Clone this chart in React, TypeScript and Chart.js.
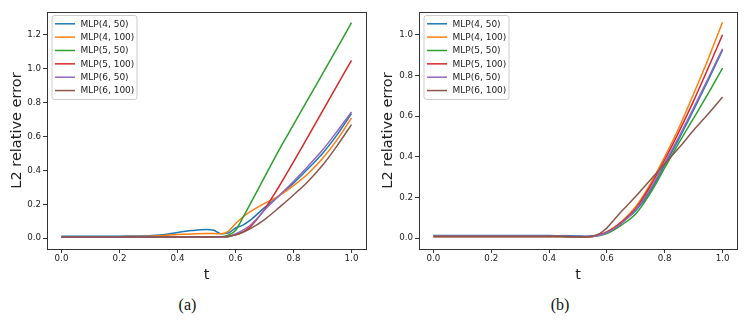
import React, { useEffect, useRef } from "react";
import { Chart, registerables } from "chart.js";

Chart.register(...registerables);

// ---------- data ----------
const T = [0, 0.1, 0.2, 0.3, 0.35, 0.4, 0.45, 0.5, 0.525, 0.55, 0.575, 0.6, 0.625, 0.65, 0.7, 0.75, 0.8, 0.85, 0.9, 0.95, 1.0];

const SERIES_LABELS = ["MLP(4, 50)", "MLP(4, 100)", "MLP(5, 50)", "MLP(5, 100)", "MLP(6, 50)", "MLP(6, 100)"];
const SERIES_COLORS = ["#1f77b4", "#ff7f0e", "#2ca02c", "#d62728", "#9467bd", "#8c564b"];

// panel (a)
const A_MLP4_50 = [0.011, 0.011, 0.012, 0.014, 0.02, 0.034, 0.045, 0.051, 0.047, 0.026, 0.03, 0.06, 0.077, 0.105, 0.18, 0.25, 0.325, 0.41, 0.5, 0.61, 0.735];
const A_MLP4_100 = [0.008, 0.008, 0.009, 0.011, 0.015, 0.021, 0.025, 0.027, 0.027, 0.026, 0.04, 0.085, 0.125, 0.155, 0.205, 0.25, 0.31, 0.38, 0.47, 0.58, 0.71];
const A_MLP5_50 = [0.008, 0.008, 0.008, 0.008, 0.008, 0.008, 0.008, 0.008, 0.008, 0.009, 0.018, 0.045, 0.12, 0.2, 0.36, 0.52, 0.67, 0.82, 0.97, 1.12, 1.272];
const A_MLP5_100 = [0.006, 0.006, 0.006, 0.006, 0.006, 0.006, 0.006, 0.006, 0.006, 0.007, 0.01, 0.02, 0.035, 0.065, 0.17, 0.305, 0.45, 0.6, 0.75, 0.9, 1.05];
const A_MLP6_50 = [0.005, 0.005, 0.005, 0.005, 0.005, 0.005, 0.005, 0.005, 0.005, 0.006, 0.008, 0.025, 0.047, 0.075, 0.165, 0.25, 0.335, 0.425, 0.52, 0.63, 0.745];
const A_MLP6_100 = [0.007, 0.007, 0.007, 0.007, 0.007, 0.007, 0.007, 0.007, 0.007, 0.008, 0.01, 0.02, 0.035, 0.055, 0.11, 0.18, 0.255, 0.335, 0.43, 0.545, 0.67];

// panel (b)
const B_MLP4_50 = [0.013, 0.013, 0.013, 0.013, 0.013, 0.012, 0.011, 0.01, 0.009, 0.01, 0.015, 0.028, 0.048, 0.075, 0.135, 0.23, 0.36, 0.49, 0.63, 0.775, 0.925];
const B_MLP4_100 = [0.008, 0.008, 0.008, 0.008, 0.008, 0.008, 0.007, 0.006, 0.006, 0.008, 0.015, 0.03, 0.052, 0.08, 0.155, 0.265, 0.4, 0.545, 0.71, 0.88, 1.062];
const B_MLP5_50 = [0.008, 0.008, 0.008, 0.008, 0.008, 0.008, 0.007, 0.006, 0.006, 0.007, 0.012, 0.022, 0.04, 0.063, 0.12, 0.22, 0.345, 0.47, 0.59, 0.71, 0.836];
const B_MLP5_100 = [0.007, 0.007, 0.007, 0.007, 0.007, 0.007, 0.007, 0.006, 0.006, 0.008, 0.016, 0.03, 0.05, 0.078, 0.145, 0.255, 0.385, 0.525, 0.675, 0.835, 1.0];
const B_MLP6_50 = [0.01, 0.01, 0.01, 0.01, 0.01, 0.009, 0.008, 0.007, 0.007, 0.008, 0.014, 0.027, 0.046, 0.072, 0.14, 0.24, 0.37, 0.5, 0.64, 0.785, 0.931];
const B_MLP6_100 = [0.008, 0.008, 0.008, 0.008, 0.008, 0.008, 0.007, 0.006, 0.006, 0.01, 0.022, 0.05, 0.09, 0.13, 0.205, 0.285, 0.365, 0.445, 0.53, 0.61, 0.694];

const X_TICKS = [0, 0.2, 0.4, 0.6, 0.8, 1.0];
const Y_TICKS_A = [0, 0.2, 0.4, 0.6, 0.8, 1.0, 1.2];
const Y_TICKS_B = [0, 0.2, 0.4, 0.6, 0.8, 1.0];

const SERIES_A = [A_MLP4_50, A_MLP4_100, A_MLP5_50, A_MLP5_100, A_MLP6_50, A_MLP6_100];
const SERIES_B = [B_MLP4_50, B_MLP4_100, B_MLP5_50, B_MLP5_100, B_MLP6_50, B_MLP6_100];

// ---------- styling ----------
const FONT = "'DejaVu Sans', sans-serif";
const AXIS_COLOR = "#333";
const TEXT_COLOR = "#222";
const TICK_FONT_SIZE = 8.7;
const TITLE_FONT_SIZE = 14.5;
const LEGEND_FONT_SIZE = 9;

const framePlugin = {
  id: "mplFrame",
  afterDatasetsDraw(chart: any) {
    const { ctx, chartArea } = chart;
    ctx.save();
    ctx.strokeStyle = AXIS_COLOR;
    ctx.lineWidth = 1;
    ctx.strokeRect(
      Math.round(chartArea.left) + 0.5,
      Math.round(chartArea.top) + 0.5,
      Math.round(chartArea.right) - Math.round(chartArea.left),
      Math.round(chartArea.bottom) - Math.round(chartArea.top)
    );
    ctx.restore();
  },
};

const legendPlugin = {
  id: "mplLegend",
  afterDraw(chart: any) {
    const { ctx, chartArea } = chart;
    const datasets = chart.data.datasets;
    const bx = chartArea.left + 5;
    const by = chartArea.top + 3.5;
    const rowH = 13.35;
    const bw = 85;
    const bh = 84;
    ctx.save();
    ctx.beginPath();
    const r = 2.5;
    ctx.moveTo(bx + r, by);
    ctx.lineTo(bx + bw - r, by);
    ctx.quadraticCurveTo(bx + bw, by, bx + bw, by + r);
    ctx.lineTo(bx + bw, by + bh - r);
    ctx.quadraticCurveTo(bx + bw, by + bh, bx + bw - r, by + bh);
    ctx.lineTo(bx + r, by + bh);
    ctx.quadraticCurveTo(bx, by + bh, bx, by + bh - r);
    ctx.lineTo(bx, by + r);
    ctx.quadraticCurveTo(bx, by, bx + r, by);
    ctx.closePath();
    ctx.fillStyle = "rgba(255,255,255,0.8)";
    ctx.fill();
    ctx.strokeStyle = "#cccccc";
    ctx.lineWidth = 1;
    ctx.stroke();
    ctx.font = `${LEGEND_FONT_SIZE}px ${FONT}`;
    ctx.textBaseline = "middle";
    ctx.textAlign = "left";
    datasets.forEach((ds: any, i: number) => {
      const y = by + 8.3 + i * rowH;
      ctx.beginPath();
      ctx.strokeStyle = ds.borderColor;
      ctx.lineWidth = 1.5;
      ctx.moveTo(bx + 3, y);
      ctx.lineTo(bx + 23, y);
      ctx.stroke();
      ctx.fillStyle = TEXT_COLOR;
      ctx.fillText(ds.label, bx + 28.5, y + 0.5);
    });
    ctx.restore();
  },
};

type PanelProps = {
  series: number[][];
  yMin: number;
  yMax: number;
  yTicks: number[];
  left: number;
  width: number;
  height: number;
  yAxisWidth: number;
  padRight: number;
  yTitlePad: number;
};

function Panel(props: PanelProps) {
  const ref = useRef<HTMLCanvasElement | null>(null);
  useEffect(() => {
    if (!ref.current) return;
    const tickFont = { family: FONT, size: TICK_FONT_SIZE };
    const titleFont = { family: FONT, size: TITLE_FONT_SIZE };
    const chart = new Chart(ref.current, {
      type: "line",
      data: {
        datasets: props.series.map((vals, i) => ({
          label: SERIES_LABELS[i],
          data: T.map((t, k) => ({ x: t, y: vals[k] })),
          borderColor: SERIES_COLORS[i],
          backgroundColor: SERIES_COLORS[i],
          borderWidth: 1.5,
          pointRadius: 0,
          fill: false,
          cubicInterpolationMode: "monotone",
          order: SERIES_LABELS.length - i,
        })),
      },
      options: {
        animation: false,
        responsive: false,
        devicePixelRatio: 1,
        events: [],
        layout: { padding: { left: 0, right: props.padRight, top: 12, bottom: 0 } },
        plugins: { legend: { display: false }, tooltip: { enabled: false } },
        scales: {
          x: {
            type: "linear",
            min: -0.05,
            max: 1.05,
            afterBuildTicks: (s: any) => {
              s.ticks = X_TICKS.map((v) => ({ value: v }));
            },
            afterFit: (s: any) => {
              s.height = 41;
            },
            ticks: {
              callback: (v: any) => Number(v).toFixed(1),
              font: tickFont,
              color: TEXT_COLOR,
              padding: 1,
              maxRotation: 0,
              autoSkip: false,
            },
            grid: { display: true, drawOnChartArea: false, drawTicks: true, tickLength: 4, color: AXIS_COLOR },
            border: { display: true, color: AXIS_COLOR, width: 1 },
            title: { display: true, text: "t", font: titleFont, color: TEXT_COLOR, padding: { top: 0, bottom: 6 } },
          },
          y: {
            type: "linear",
            min: props.yMin,
            max: props.yMax,
            afterBuildTicks: (s: any) => {
              s.ticks = props.yTicks.map((v) => ({ value: v }));
            },
            afterFit: (s: any) => {
              s.width = props.yAxisWidth;
            },
            ticks: {
              callback: (v: any) => Number(v).toFixed(1),
              font: tickFont,
              color: TEXT_COLOR,
              padding: 2,
              autoSkip: false,
            },
            grid: { display: true, drawOnChartArea: false, drawTicks: true, tickLength: 4, color: AXIS_COLOR },
            border: { display: true, color: AXIS_COLOR, width: 1 },
            title: {
              display: true,
              text: "L2 relative error",
              font: titleFont,
              color: TEXT_COLOR,
              padding: { top: props.yTitlePad, bottom: 0 },
            },
          },
        },
      } as any,
      plugins: [framePlugin, legendPlugin],
    });
    return () => chart.destroy();
  }, []);
  return (
    <canvas
      ref={ref}
      width={props.width}
      height={props.height}
      style={{ position: "absolute", left: props.left, top: 0, width: props.width, height: props.height }}
    />
  );
}

const captionStyle = (cx: number): React.CSSProperties => ({
  position: "absolute",
  left: cx - 30,
  width: 60,
  top: 295,
  textAlign: "center",
  fontFamily: "'Liberation Serif', 'Times New Roman', serif",
  fontSize: 16,
  lineHeight: "20px",
  color: "#111",
});

export default function App() {
  return (
    <div style={{ position: "fixed", left: 0, top: 0, width: 748, height: 326, background: "#fff", overflow: "hidden" }}>
      <Panel
        series={SERIES_A}
        yMin={-0.064}
        yMax={1.335}
        yTicks={Y_TICKS_A}
        left={0}
        width={374}
        height={290}
        yAxisWidth={47}
        padRight={8}
        yTitlePad={9}
      />
      <Panel
        series={SERIES_B}
        yMin={-0.054}
        yMax={1.112}
        yTicks={Y_TICKS_B}
        left={374}
        width={374}
        height={290}
        yAxisWidth={45}
        padRight={11}
        yTitlePad={6}
      />
      <div style={captionStyle(187.5)}>(a)</div>
      <div style={captionStyle(560)}>(b)</div>
    </div>
  );
}
